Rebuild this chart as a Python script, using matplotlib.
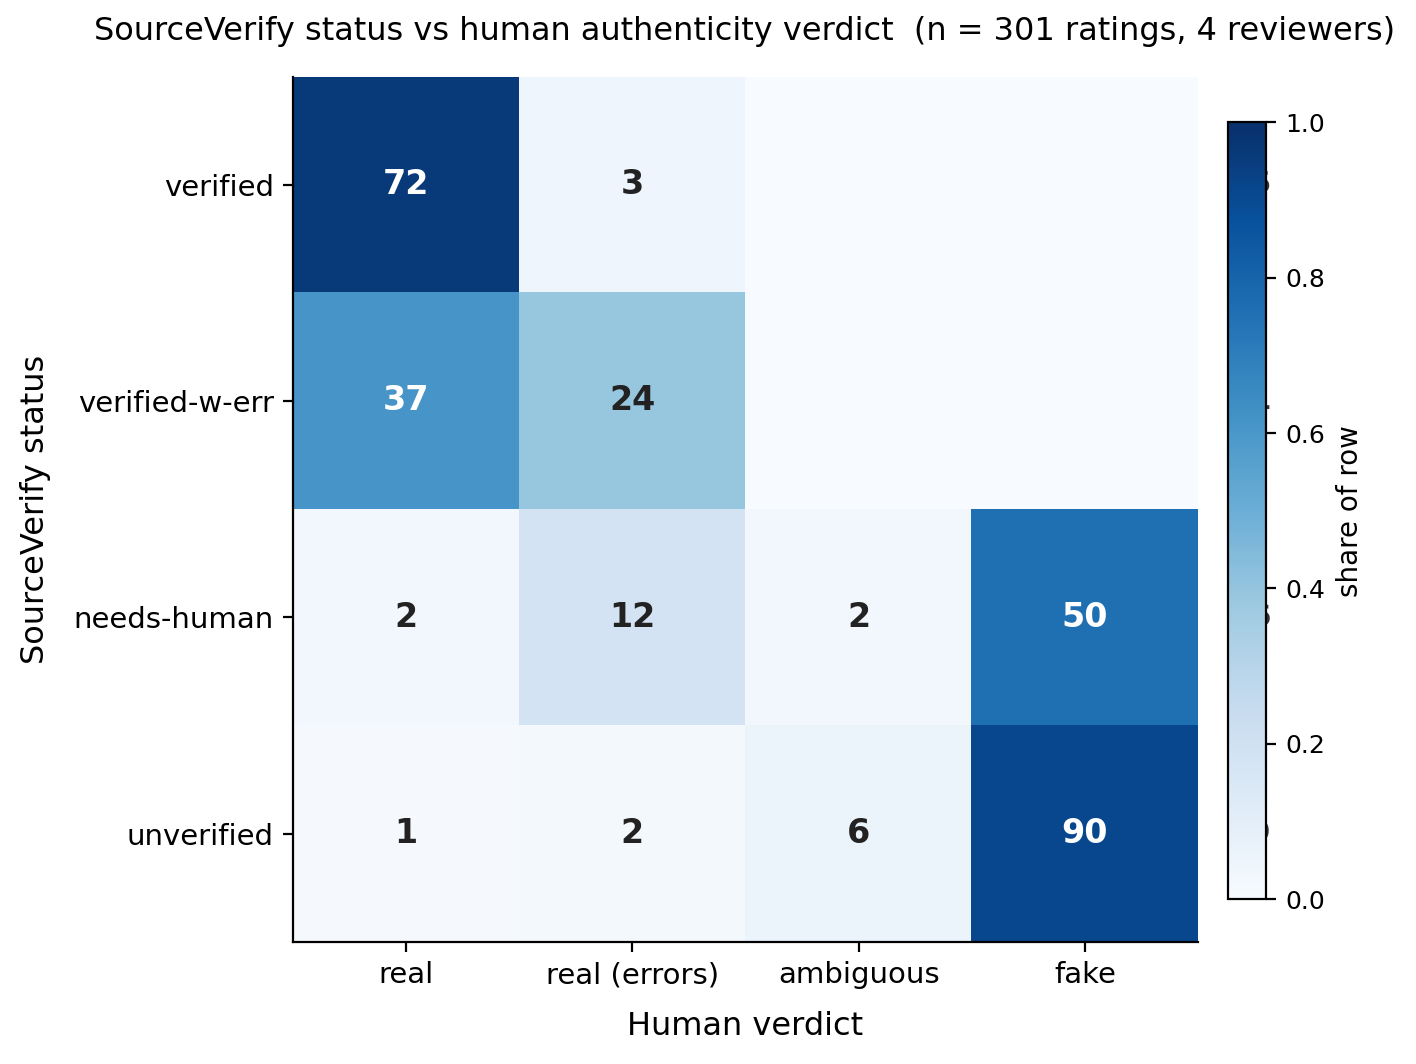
import numpy as np
import matplotlib
matplotlib.use("Agg")
import matplotlib.pyplot as plt

rows = ["verified", "verified-w-err", "needs-human", "unverified"]
cols = ["real", "real (errors)", "ambiguous", "fake"]
counts = np.array([
    [72, 3, 0, 0],
    [37, 24, 0, 0],
    [2, 12, 2, 50],
    [1, 2, 6, 90],
])

share = counts / counts.sum(axis=1, keepdims=True)

fig = plt.figure(figsize=(7.08, 5.32), dpi=200)
ax = fig.add_axes([0.207, 0.115, 0.639, 0.813])
im = ax.imshow(share, cmap="Blues", vmin=0, vmax=1, aspect="auto")
for i in range(len(rows)):
    for j in range(len(cols)):
        c = counts[i, j]
        if c > 0:
            ax.text(j, i, str(c), ha="center", va="center", fontsize=12, fontweight="bold",
                    color="white" if share[i, j] > 0.5 else "#222222")
    ax.text(3.73, i, f"{counts[i].sum()}", ha="center", va="center", fontsize=11,
            fontweight="bold", color="#333333", clip_on=False)
ax.set_xticks(range(len(cols)))
ax.set_xticklabels(cols, fontsize=10.5)
ax.set_yticks(range(len(rows)))
ax.set_yticklabels(rows, fontsize=10.5)
ax.set_xlabel("Human verdict", fontsize=11.5, labelpad=8)
ax.set_ylabel("SourceVerify status", fontsize=11.5, labelpad=8)
ax.spines["top"].set_visible(False)
ax.spines["right"].set_visible(False)
fig.suptitle("SourceVerify status vs human authenticity verdict  (n = 301 ratings, 4 reviewers)",
             fontsize=11.5, x=0.526, y=0.985)
cax = fig.add_axes([0.867, 0.155, 0.027, 0.73])
cax.set_zorder(5)
cb = fig.colorbar(im, cax=cax)
cb.set_label("share of row", fontsize=10)
cb.ax.tick_params(labelsize=9)
fig.savefig("out.png", dpi=200)
